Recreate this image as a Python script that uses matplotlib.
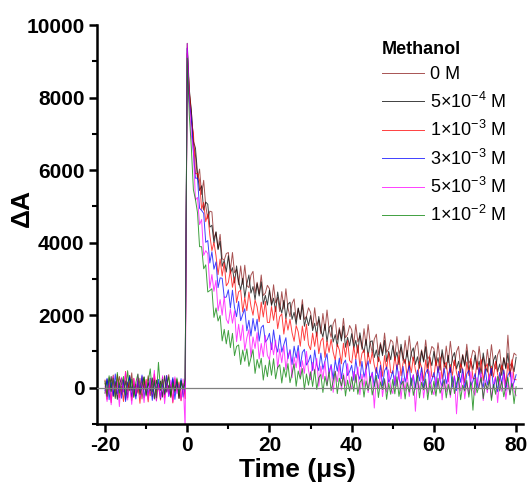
import numpy as np
import matplotlib
matplotlib.use('Agg')
import matplotlib.pyplot as plt
from matplotlib.ticker import MultipleLocator

plt.rcParams['font.family'] = ['Liberation Sans', 'DejaVu Sans']
plt.rcParams['mathtext.fontset'] = 'custom'
plt.rcParams['mathtext.rm'] = 'Liberation Sans'
plt.rcParams['mathtext.it'] = 'Liberation Sans:italic'
plt.rcParams['mathtext.bf'] = 'Liberation Sans:bold'
plt.rcParams['axes.unicode_minus'] = False

# time axis: -20 .. 80 us, sampled every 0.5 us
time_us = np.arange(-20, 80.25, 0.5)

# transient absorption traces, one per methanol conc.
dA_0M = [
    120, -210, 280, -90, 350, -260, 40, 310, -180, 220, -330, 150, -60, 410, -240, 90, -150, 260, -310, 180,
    -40, 330, -220, 70, 240, -350, 130, -80, 290, -190, 20, 360, -270, 110, -130, 230, -300, 160, -20, 250,
    9370, 8110, 7640, 6730, 6410, 5750, 6030, 5330, 5720, 5020,
    4660, 4870, 4850, 4110, 4290, 3840, 4230, 3560, 3520, 3700,
    3730, 3240, 3730, 3170, 3260, 2840, 3360, 2850, 3380, 2820,
    2760, 3105, 3210, 2605, 2910, 2585, 3110, 2545, 2610, 2825,
    2730, 2300, 2840, 2340, 2490, 2100, 2650, 2170, 2730, 2200,
    1960, 2325, 2450, 1865, 2190, 1885, 2430, 1885, 1970, 2205,
    2080, 1658, 2206, 1714, 1872, 1490, 2048, 1576, 2144, 1622,
    1390, 1764, 1898, 1322, 1656, 1360, 1914, 1378, 1472, 1716,
    1600, 1188, 1746, 1264, 1432, 1060, 1628, 1166, 1744, 1232,
    960, 1338, 1476, 904, 1242, 950, 1508, 976, 1074, 1322,
    1260, 851, 1412, 933, 1104, 735, 1306, 847, 1428, 919,
    750, 1131, 1272, 703, 1044, 755, 1316, 787, 888, 1139,
    1080, 675, 1240, 765, 940, 575, 1150, 695, 1280, 775,
    610, 995, 1140, 575, 920, 635, 1200, 675, 780, 1035,
    980, 576, 1142, 668, 844, 480, 1056, 602, 1188, 684,
    520, 906, 1052, 488, 834, 550, 1450, 592, 698, 954,
    900]

dA_5e4 = [
    -150, 230, -60, 310, -240, 170, -320, 90, 260, -110, 190, -280, 340, -70, 120, -230, 280, -160, 50, 300,
    -200, 140, -90, 270, -310, 210, -40, 180, -260, 330, -120, 60, -210, 240, -80, 150, -290, 200, -30, 110,
    9500, 8240, 7630, 6800, 6610, 5910, 5440, 5570, 4900, 5120,
    5060, 4430, 4480, 3990, 4300, 3810, 4040, 3350, 3510, 3190,
    3640, 3160, 3310, 2890, 3360, 2940, 2700, 3020, 2490, 2860,
    3110, 2610, 2790, 2430, 2870, 2530, 2920, 2300, 2550, 2280,
    2690, 2270, 2470, 2100, 2640, 2260, 2060, 2410, 1910, 2300,
    2360, 1885, 2080, 1745, 2200, 1885, 2290, 1695, 1960, 1715,
    1990, 1575, 1780, 1420, 1965, 1590, 1400, 1755, 1265, 1660,
    1730, 1260, 1465, 1135, 1600, 1290, 1705, 1115, 1390, 1155,
    1490, 1090, 1307, 955, 1514, 1152, 971, 1339, 858, 1266,
    1295, 833, 1042, 720, 1189, 887, 1306, 724, 1003, 771,
    1160, 762, 984, 636, 1198, 840, 662, 1034, 556, 968,
    1100, 642, 854, 536, 1008, 710, 1132, 554, 836, 608,
    1000, 605, 830, 485, 1050, 695, 520, 895, 420, 835,
    970, 515, 730, 415, 890, 595, 1020, 445, 730, 505,
    900, 507, 734, 391, 958, 605, 432, 809, 336, 753,
    890, 437, 654, 341, 818, 525, 952, 379, 666, 443,
    840]

dA_1e3 = [
    210, -320, 90, -410, 280, -150, 360, -280, 40, -380, 450, -90, 170, -350, 260, -220, 120, -430, 310, -60,
    230, -390, 140, -250, 380, -120, 60, -340, 200, -280, 330, -180, 90, -420, 250, -70, 160, -360, 110, -300,
    9220, 8210, 7370, 7030, 5900, 5910, 5720, 4920, 5110, 4580,
    4790, 4210, 3780, 4010, 3640, 3120, 3550, 3080, 3450, 2810,
    2900, 3245, 2770, 3055, 2350, 2645, 2690, 2090, 2490, 2125,
    2640, 2250, 2000, 2420, 2230, 1820, 2360, 1950, 2380, 1800,
    1800, 2240, 1860, 2240, 1630, 1960, 2040, 1480, 1920, 1590,
    1890, 1515, 1280, 1715, 1540, 1145, 1700, 1305, 1750, 1185,
    1050, 1505, 1140, 1535, 940, 1285, 1380, 835, 1290, 975,
    1340, 978, 756, 1204, 1042, 660, 1228, 846, 1304, 752,
    680, 1141, 782, 1183, 594, 945, 1046, 507, 968, 659,
    980, 621, 402, 853, 694, 315, 886, 507, 968, 419,
    400, 865, 510, 915, 330, 685, 790, 255, 720, 415,
    840, 485, 270, 725, 570, 195, 770, 395, 860, 315,
    300, 767, 415, 822, 240, 597, 705, 172, 640, 337,
    765, 412, 200, 657, 505, 132, 710, 337, 805, 262,
    250, 718, 367, 775, 194, 552, 661, 129, 598, 296,
    725, 373, 162, 620, 469, 97, 676, 304, 773, 231,
    220]

dA_3e3 = [
    -80, 260, -330, 140, -220, 380, -160, 60, -290, 210, -380, 120, 300, -250, 40, -310, 190, -140, 350, -270,
    80, -200, 260, -350, 150, -60, 230, -300, 110, -190, 340, -240, 20, 280, -320, 170, -110, 250, -260, 90,
    9360, 7900, 7430, 6480, 5780, 5780, 4950, 4890, 4810, 4010,
    4060, 3440, 3750, 3270, 3470, 2760, 3030, 3020, 2490, 2500,
    2700, 2200, 2690, 2210, 1960, 2380, 1850, 2020, 2180, 1570,
    1860, 1425, 1910, 1565, 1890, 1285, 1660, 1725, 1260, 1335,
    1500, 1050, 1595, 1170, 985, 1450, 985, 1190, 1380, 800,
    1050, 640, 1145, 820, 1165, 580, 975, 1060, 625, 725,
    900, 475, 1040, 635, 470, 955, 510, 735, 940, 375,
    640, 242, 764, 456, 818, 250, 662, 764, 336, 448,
    620, 205, 780, 385, 230, 725, 290, 525, 740, 185,
    430, 35, 560, 255, 620, 55, 470, 575, 150, 265,
    470, 57, 635, 242, 90, 587, 155, 392, 610, 57,
    355, -38, 490, 187, 555, -8, 410, 517, 95, 212,
    420, 8, 587, 195, 44, 542, 111, 349, 568, 16,
    315, -77, 452, 150, 519, -43, 376, 484, 63, 181,
    390, -22, 556, 164, 12, 510, 78, 316, 534, -18,
    281, -110, 419, 118, 487, -74, 345, 454, 33, 152,
    360]

dA_5e3 = [
    40, -380, 220, -470, 310, -250, 160, -520, 290, -120, 430, -340, 80, -460, 250, -180, 370, -290, 120, -410,
    190, -330, 260, -150, 480, -370, 100, -280, 330, -440, 140, -230, 210, -390, 300, -170, 90, -350, 240, -1150,
    9490, 7885, 6965, 6540, 5180, 5250, 4500, 4640, 3650, 3780,
    3700, 2750, 3120, 2660, 2960, 2120, 2430, 2000, 2520, 1890,
    1770, 2170, 1780, 2120, 1270, 1750, 1300, 1730, 1030, 1380,
    1600, 845, 1400, 1085, 1520, 795, 1220, 855, 1440, 895,
    770, 1235, 910, 1315, 530, 1070, 690, 1155, 500, 890,
    1010, 274, 848, 552, 1006, 300, 744, 398, 1002, 476,
    220, 700, 390, 810, 40, 600, 240, 720, 70, 470,
    600, -127, 456, 169, 632, -65, 388, 51, 664, 147,
    -40, 447, 144, 571, -192, 375, 22, 509, -134, 273,
    400, -560, 264, -19, 448, -245, 212, -121, 496, -17,
    -160, 328, 27, 455, -306, 262, -89, 399, -242, 166,
    355, -650, 222, -60, 409, -283, 176, -156, 463, -49,
    -190, 299, -2, 427, -334, 235, -116, 373, -268, 141,
    330, -720, 198, -83, 386, -305, 154, -177, 442, -69,
    -210, 279, -22, 407, -354, 215, -136, 353, -288, 121,
    310, -410, 180, -100, 370, -320, 140, -190, 430, -80,
    -220]

dA_1e2 = [
    180, -240, 330, -110, 260, -300, 420, -150, 90, 310, -200, 470, -80, 240, -270, 150, 380, -190, 60, 290,
    -230, 170, 520, -120, 200, -280, 700, -60, 230, -170, 110, 300, -250, 140, -90, 270, -200, 190, -40, 220,
    9090, 7530, 6620, 5460, 5190, 4830, 3890, 3890, 3280, 3390,
    2640, 2680, 2730, 1940, 2200, 1840, 1990, 1290, 1610, 1210,
    1580, 1105, 1500, 885, 1140, 1180, 640, 1040, 730, 1070,
    590, 820, 1050, 395, 780, 540, 810, 210, 620, 305,
    760, 345, 800, 245, 560, 635, 130, 565, 290, 665,
    140, 400, 660, 40, 460, 240, 530, -50, 380, 70,
    440, 35, 500, -45, 280, 365, -130, 315, 50, 435,
    -80, 186, 452, -162, 264, 50, 346, -228, 208, -96,
    300, -103, 364, -179, 148, 235, -258, 189, -74, 313,
    -200, 70, 340, -270, 160, -50, 250, -320, 120, -180,
    230, -170, 300, -240, 90, 180, -310, 140, -120, 270,
    -210, 60, 330, -280, 150, -60, 240, -330, 110, -190,
    180, -230, 260, -150, 40, 220, -280, 90, -200, 310,
    -160, 120, 290, -330, 70, -90, 200, -260, 160, -620,
    250, -140, 60, 280, -300, 130, -50, 210, -350, 90,
    -180, 310, -90, 170, -250, 40, 280, -200, 120, -440,
    30]

traces = [dA_0M, dA_5e4, dA_1e3, dA_3e3, dA_5e3, dA_1e2]
labels = ['0 M',
          r'5$\times$10$^{-4}$ M',
          r'1$\times$10$^{-3}$ M',
          r'3$\times$10$^{-3}$ M',
          r'5$\times$10$^{-3}$ M',
          r'1$\times$10$^{-2}$ M']
colors = ['#8B1A1A', 'black', 'red', 'blue', 'magenta', 'green']

fig = plt.figure(figsize=(5.3, 4.84), dpi=100)
ax = fig.add_axes([0.183, 0.124, 0.804, 0.824])

for y, c, lab in zip(traces, colors, labels):
    ax.plot(time_us, y, color=c, lw=0.7, alpha=0.75, label=lab)

ax.axhline(0, color='#808080', lw=0.9, zorder=5)

ax.set_xlim(-21.95, 81.7)
ax.set_ylim(-1000, 10000)
ax.spines['top'].set_visible(False)
ax.spines['right'].set_visible(False)
for s in ['left', 'bottom']:
    ax.spines[s].set_linewidth(1.8)

ax.set_xticks([-20, 0, 20, 40, 60, 80])
ax.xaxis.set_minor_locator(MultipleLocator(10))
ax.yaxis.set_major_locator(MultipleLocator(2000))
ax.yaxis.set_minor_locator(MultipleLocator(1000))
ax.tick_params(which='major', direction='out', length=6, width=1.8, labelsize=15, pad=3)
ax.tick_params(which='minor', direction='out', length=3.5, width=1.5)
for t in ax.get_xticklabels() + ax.get_yticklabels():
    t.set_fontweight('bold')

fig.text(22 / 530, 1 - 208 / 484, 'ΔA', rotation=90, ha='center', va='center',
         fontsize=19, fontweight='bold')
fig.text(297 / 530, 1 - 470 / 484, 'Time (μs)', ha='center', va='center',
         fontsize=19, fontweight='bold')

leg = ax.legend(loc='upper left', bbox_to_anchor=(382 / 530, 1 - 41 / 484),
                bbox_transform=fig.transFigure, frameon=False, fontsize=13,
                title='Methanol', title_fontproperties={'weight': 'bold', 'size': 13},
                alignment='left', handlelength=2.3, handletextpad=0.35,
                labelspacing=0.46, borderpad=0, borderaxespad=0)

fig.savefig('out.png', dpi=100)
